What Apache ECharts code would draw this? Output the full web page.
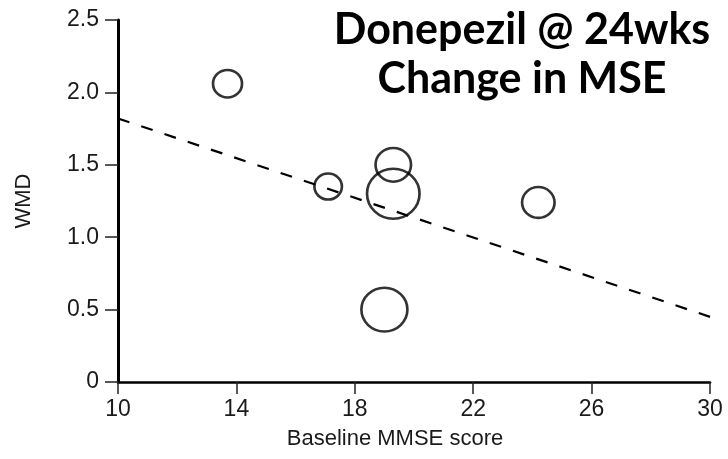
<!DOCTYPE html>
<html>
<head>
<meta charset="utf-8">
<script src="https://cdn.jsdelivr.net/npm/echarts@6/dist/echarts.min.js"></script>
<style>html,body{margin:0;padding:0;background:#fff}#c{width:728px;height:459px}</style>
</head>
<body>
<div id="c"></div>
<script>
const titleLines = ['Donepezil @ 24wks', 'Change in MSE'];
const xAxisName = 'Baseline MMSE score';
const yAxisName = 'WMD';
const baselineMMSE = [13.7, 17.1, 19.3, 19.3, 19.0, 24.2];
const wmd = [2.06, 1.35, 1.50, 1.30, 0.50, 1.24];
const studyWeight = [29, 27.5, 35.5, 52.5, 46, 32.5];
const regressionX = [10, 30];
const regressionY = [1.82, 0.45];
const xTicks = [10, 14, 18, 22, 26, 30];
const yTicks = [0, 0.5, 1.0, 1.5, 2.0, 2.5];

const points = baselineMMSE.map((x, i) => [x, wmd[i], studyWeight[i]]);
const lineData = regressionX.map((x, i) => [x, regressionY[i]]);

const chart = echarts.init(document.getElementById('c'), null, {renderer: 'canvas'});
const labelFont = {fontFamily: 'Liberation Sans', fontSize: 23, color: '#1a1a1a'};
chart.setOption({
  animation: false,
  backgroundColor: '#fff',
  title: {
    text: titleLines.join('\n'),
    left: 517,
    top: 1,
    textAlign: 'center',
    textStyle: {fontFamily: 'Lato', fontWeight: 'bold', fontSize: 43, lineHeight: 49, color: '#000'}
  },
  grid: {left: 118, right: 18, top: 20, bottom: 77, containLabel: false},
  xAxis: {
    type: 'value', min: xTicks[0], max: xTicks[xTicks.length - 1], interval: 4,
    name: xAxisName, nameLocation: 'middle', nameGap: 46,
    nameTextStyle: Object.assign({}, labelFont, {fontSize: 22, padding: [0, 38, 0, 0]}),
    axisLine: {lineStyle: {color: '#000', width: 2.7}},
    axisTick: {show: true, length: 12, lineStyle: {color: '#222', width: 1.5}},
    axisLabel: Object.assign({margin: 16}, labelFont),
    splitLine: {show: false}
  },
  yAxis: {
    type: 'value', min: yTicks[0], max: yTicks[yTicks.length - 1], interval: 0.5,
    name: yAxisName, nameLocation: 'middle', nameGap: 83,
    nameTextStyle: Object.assign({}, labelFont, {fontSize: 22}),
    axisLine: {show: true, lineStyle: {color: '#000', width: 3}},
    axisTick: {show: true, length: 13, lineStyle: {color: '#222', width: 1.5}},
    axisLabel: Object.assign({margin: 19, formatter: v => v === 0 ? '0' : v.toFixed(1)}, labelFont),
    splitLine: {show: false}
  },
  series: [
    {
      type: 'line', data: lineData, symbol: 'none', silent: true, z: 1,
      lineStyle: {color: '#000', width: 2.2, type: [12, 12.5]}
    },
    {
      type: 'scatter', data: points, z: 2,
      symbolSize: d => [d[2], d[2] * 0.95],
      itemStyle: {color: 'rgba(0,0,0,0)', borderColor: '#000', borderWidth: 2.6}
    }
  ]
});
</script>
</body>
</html>
